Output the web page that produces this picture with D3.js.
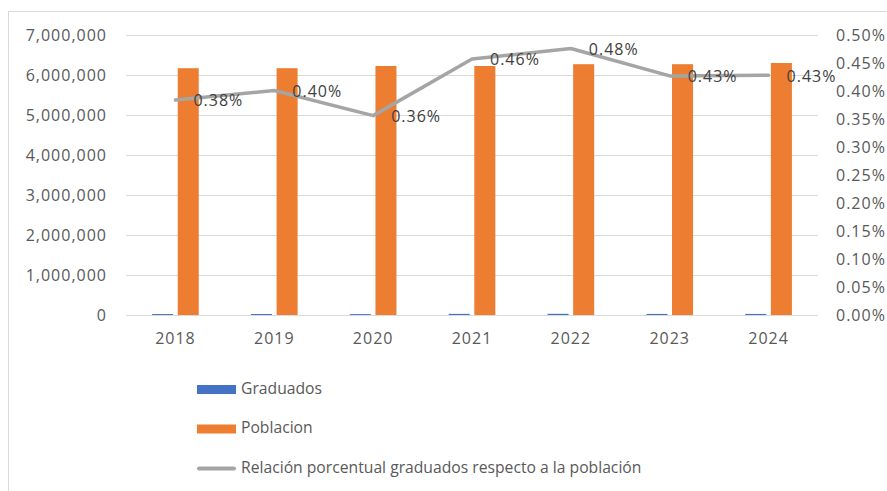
<!DOCTYPE html>
<html>
<head>
  <meta charset="utf-8">
  <script src="https://cdn.jsdelivr.net/npm/d3@7"></script>
  <style>
    body, html {
      margin: 0;
      padding: 0;
      background: white;
      overflow: hidden;
    }
    svg text {
      font-family: 'Open Sans', sans-serif;
    }
    .tick text {
      font-size: 16px;
      letter-spacing: 1px;
      fill: #595959;
    }
  </style>
</head>
<body>
  <svg id="chart" width="887" height="491"></svg>

  <script>
    // values
    const years = ["2018", "2019", "2020", "2021", "2022", "2023", "2024"];
    const graduados = [23700, 24700, 22100, 28400, 29800, 26800, 27000];
    const poblacion = [6170000, 6170000, 6225000, 6225000, 6270000, 6270000, 6300000];
    const relacion = [0.00384, 0.00401, 0.00356, 0.00457, 0.00476, 0.00427, 0.00428];

    const leftTicks = [0, 1000000, 2000000, 3000000, 4000000, 5000000, 6000000, 7000000];
    const rightTicks = [0, 0.0005, 0.001, 0.0015, 0.002, 0.0025, 0.003, 0.0035, 0.004, 0.0045, 0.005];

    const seriesNames = ["Graduados", "Poblacion", "Relación porcentual graduados respecto a la población"];
    const colors = { Graduados: "#4472C4", Poblacion: "#ED7D31", line: "#A5A5A5" };

    const svg = d3.select('#chart');

    // chart frame
    svg.append('rect')
      .attr('x', 8.5).attr('y', 11.5)
      .attr('width', 900).attr('height', 500)
      .attr('fill', 'white')
      .attr('stroke', '#D9D9D9');

    const plotLeft = 126, plotRight = 818, plotTop = 35, plotBottom = 315;

    const x0 = d3.scaleBand().domain(years).range([plotLeft, plotRight]);
    const bw = x0.bandwidth();
    const x1 = d3.scaleBand().domain(["Graduados", "Poblacion"])
      .range([-bw * 0.236, bw * 0.236])
      .paddingInner(0.18);

    const yLeft = d3.scaleLinear().domain([0, 7000000]).range([plotBottom, plotTop]);
    const yRight = d3.scaleLinear().domain([0, 0.005]).range([plotBottom, plotTop]);

    // gridlines
    svg.append('g')
      .attr('transform', `translate(${plotLeft},0)`)
      .call(d3.axisLeft(yLeft).tickValues(leftTicks).tickSize(-(plotRight - plotLeft)).tickFormat(''))
      .call(g => g.select('.domain').remove())
      .call(g => g.selectAll('line').attr('stroke', '#D9D9D9').attr('stroke-width', 1));

    // left axis labels
    svg.append('g')
      .attr('transform', `translate(${plotLeft},0)`)
      .call(d3.axisLeft(yLeft).tickValues(leftTicks).tickSize(0).tickPadding(19).tickFormat(d3.format(',')))
      .call(g => g.select('.domain').remove());

    // right axis labels
    svg.append('g')
      .attr('transform', `translate(${plotRight},0)`)
      .call(d3.axisRight(yRight).tickValues(rightTicks).tickSize(0).tickPadding(18).tickFormat(d3.format('.2%')))
      .call(g => g.select('.domain').remove());

    // category labels
    svg.append('g')
      .attr('transform', `translate(0,${plotBottom})`)
      .call(d3.axisBottom(x0).tickSize(0).tickPadding(18))
      .call(g => g.select('.domain').remove());

    // bars
    const barData = years.map((yr, i) => ({ year: yr, Graduados: graduados[i], Poblacion: poblacion[i] }));
    const groups = svg.append('g').selectAll('g')
      .data(barData)
      .join('g')
      .attr('transform', d => `translate(${x0(d.year) + bw / 2},0)`);

    groups.selectAll('rect')
      .data(d => ["Graduados", "Poblacion"].map(k => ({ key: k, value: d[k] })))
      .join('rect')
      .attr('x', d => x1(d.key))
      .attr('width', x1.bandwidth())
      .attr('y', d => yLeft(d.value))
      .attr('height', d => plotBottom - yLeft(d.value))
      .attr('fill', d => colors[d.key]);

    // line on secondary axis
    const lineData = years.map((yr, i) => ({ year: yr, value: relacion[i] }));
    const line = d3.line()
      .x(d => x0(d.year) + bw / 2)
      .y(d => yRight(d.value));

    svg.append('path')
      .datum(lineData)
      .attr('d', line)
      .attr('fill', 'none')
      .attr('stroke', colors.line)
      .attr('stroke-width', 3.5)
      .attr('stroke-linejoin', 'round')
      .attr('stroke-linecap', 'round');

    // data labels
    svg.append('g').selectAll('text')
      .data(lineData)
      .join('text')
      .attr('x', d => x0(d.year) + bw / 2 + 18)
      .attr('y', d => yRight(d.value) + 2)
      .attr('dominant-baseline', 'middle')
      .attr('font-size', 16)
      .attr('letter-spacing', 1)
      .attr('fill', '#404040')
      .text(d => d3.format('.2%')(d.value));

    // legend
    const legend = svg.append('g').attr('transform', 'translate(197,0)');
    const legendY = [389.5, 429, 468.5];
    seriesNames.forEach((name, i) => {
      const g = legend.append('g').attr('transform', `translate(0,${legendY[i]})`);
      if (i < 2) {
        g.append('rect')
          .attr('x', 0).attr('y', -4.5)
          .attr('width', 39).attr('height', 9)
          .attr('fill', colors[name]);
      } else {
        g.append('line')
          .attr('x1', 2).attr('x2', 37)
          .attr('stroke', colors.line)
          .attr('stroke-width', 4)
          .attr('stroke-linecap', 'round');
      }
      g.append('text')
        .attr('x', 44)
        .attr('dominant-baseline', 'middle')
        .attr('font-size', 15.7)
        .attr('fill', '#595959')
        .text(name);
    });
  </script>
</body>
</html>
